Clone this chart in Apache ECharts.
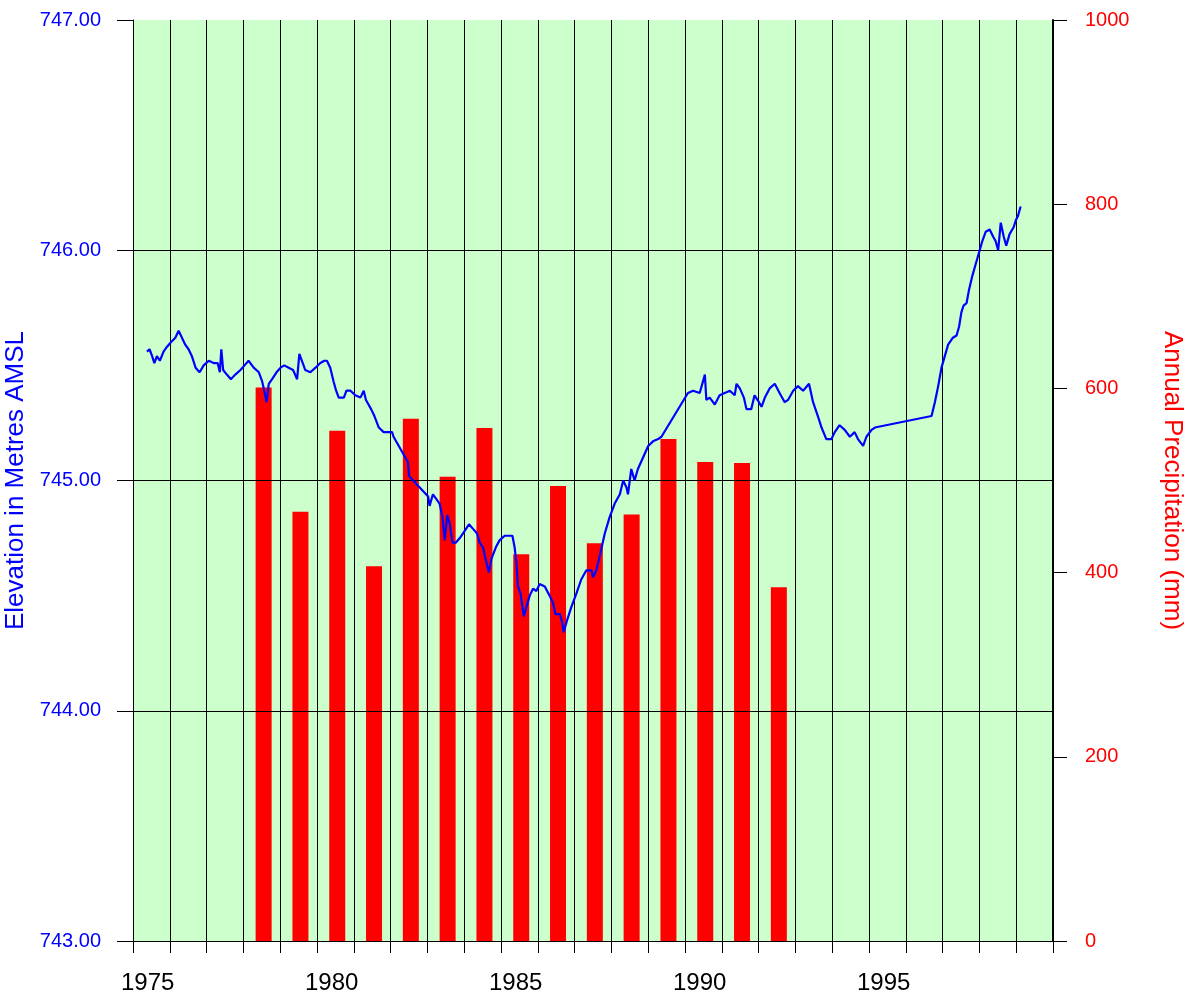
<!DOCTYPE html>
<html>
<head>
<meta charset="utf-8">
<title>Lake Elevation and Annual Precipitation</title>
<script src="https://cdn.jsdelivr.net/npm/echarts@6/dist/echarts.min.js"></script>
<style>
  html, body { margin: 0; padding: 0; background: #ffffff; }
  #chart { width: 1188px; height: 996px; }
</style>
</head>
<body>
<div id="chart"></div>
<script>
// Lake surface elevation (decimal year, metres above mean sea level)
const levelDates = [
  1974.98, 1975.05, 1975.12, 1975.18, 1975.25, 1975.33, 1975.43, 1975.52, 1975.63, 1975.75,
  1975.84, 1975.93, 1976.02, 1976.11, 1976.20, 1976.30, 1976.41, 1976.52, 1976.66, 1976.79,
  1976.90, 1976.96, 1977.00, 1977.05, 1977.15, 1977.26, 1977.38, 1977.52, 1977.63, 1977.74,
  1977.88, 1978.02, 1978.11, 1978.18, 1978.23, 1978.29, 1978.38, 1978.50, 1978.61, 1978.71,
  1978.83, 1978.95, 1979.06, 1979.12, 1979.19, 1979.28, 1979.42, 1979.56, 1979.69, 1979.80,
  1979.87, 1979.96, 1980.05, 1980.12, 1980.19, 1980.33, 1980.40, 1980.51, 1980.64, 1980.78,
  1980.87, 1980.93, 1981.00, 1981.07, 1981.16, 1981.28, 1981.41, 1981.55, 1981.64, 1981.68,
  1982.07, 1982.10, 1982.62, 1982.66, 1982.75, 1982.84, 1982.93, 1983.01, 1983.07, 1983.14,
  1983.21, 1983.28, 1983.37, 1983.48, 1983.61, 1983.73, 1983.84, 1983.95, 1984.02, 1984.11,
  1984.18, 1984.27, 1984.34, 1984.46, 1984.56, 1984.70, 1984.82, 1984.91, 1984.97, 1985.02,
  1985.06, 1985.13, 1985.22, 1985.29, 1985.38, 1985.47, 1985.56, 1985.65, 1985.79, 1985.92,
  1986.01, 1986.08, 1986.20, 1986.27, 1986.30, 1986.39, 1986.51, 1986.65, 1986.78, 1986.92,
  1987.06, 1987.10, 1987.19, 1987.28, 1987.42, 1987.55, 1987.69, 1987.83, 1987.92, 1988.01,
  1988.05, 1988.14, 1988.23, 1988.32, 1988.46, 1988.60, 1988.73, 1988.87, 1988.96, 1989.68,
  1989.82, 1990.00, 1990.14, 1990.18, 1990.27, 1990.41, 1990.54, 1990.68, 1990.82, 1990.95,
  1991.00, 1991.09, 1991.20, 1991.27, 1991.40, 1991.49, 1991.61, 1991.68, 1991.77, 1991.90,
  1992.04, 1992.17, 1992.31, 1992.40, 1992.54, 1992.67, 1992.81, 1992.97, 1993.08, 1993.21,
  1993.31, 1993.44, 1993.58, 1993.67, 1993.80, 1993.94, 1994.08, 1994.21, 1994.30, 1994.44,
  1994.53, 1994.67, 1994.76, 1996.30, 1996.39, 1996.48, 1996.57, 1996.66, 1996.75, 1996.88,
  1996.98, 1997.05, 1997.11, 1997.17, 1997.25, 1997.32, 1997.41, 1997.50, 1997.59, 1997.68,
  1997.77, 1997.88, 1997.97, 1998.04, 1998.11, 1998.18, 1998.26, 1998.33, 1998.42, 1998.53,
  1998.59, 1998.65, 1998.72
];
const levelMetres = [
  745.56, 745.57, 745.54, 745.51, 745.54, 745.52, 745.56, 745.58, 745.60, 745.62,
  745.65, 745.62, 745.59, 745.57, 745.54, 745.49, 745.47, 745.50, 745.52, 745.51,
  745.51, 745.47, 745.57, 745.48, 745.46, 745.44, 745.46, 745.48, 745.50, 745.52,
  745.49, 745.47, 745.43, 745.38, 745.34, 745.42, 745.44, 745.47, 745.49, 745.50,
  745.49, 745.48, 745.44, 745.55, 745.52, 745.48, 745.47, 745.49, 745.51, 745.52,
  745.52, 745.49, 745.43, 745.39, 745.36, 745.36, 745.39, 745.39, 745.37, 745.36,
  745.39, 745.35, 745.33, 745.31, 745.28, 745.23, 745.21, 745.21, 745.21, 745.19,
  745.08, 745.02, 744.93, 744.89, 744.94, 744.92, 744.90, 744.84, 744.74, 744.85,
  744.81, 744.73, 744.73, 744.75, 744.78, 744.81, 744.79, 744.77, 744.73, 744.71,
  744.66, 744.60, 744.66, 744.71, 744.74, 744.76, 744.76, 744.76, 744.71, 744.64,
  744.54, 744.51, 744.41, 744.45, 744.50, 744.53, 744.52, 744.55, 744.54, 744.50,
  744.47, 744.42, 744.42, 744.38, 744.34, 744.39, 744.45, 744.51, 744.57, 744.61,
  744.61, 744.58, 744.61, 744.67, 744.77, 744.84, 744.90, 744.94, 745.00, 744.97,
  744.94, 745.05, 745.00, 745.05, 745.10, 745.15, 745.17, 745.18, 745.19, 745.38,
  745.39, 745.38, 745.46, 745.35, 745.36, 745.33, 745.37, 745.38, 745.39, 745.37,
  745.42, 745.40, 745.36, 745.31, 745.31, 745.37, 745.34, 745.32, 745.36, 745.40,
  745.42, 745.38, 745.34, 745.35, 745.39, 745.41, 745.39, 745.42, 745.34, 745.28,
  745.23, 745.18, 745.18, 745.21, 745.24, 745.22, 745.19, 745.21, 745.18, 745.15,
  745.19, 745.22, 745.23, 745.28, 745.34, 745.41, 745.49, 745.54, 745.59, 745.62,
  745.63, 745.67, 745.73, 745.76, 745.77, 745.83, 745.89, 745.94, 745.99, 746.04,
  746.08, 746.09, 746.06, 746.04, 746.00, 746.12, 746.06, 746.02, 746.07, 746.10,
  746.13, 746.15, 746.19
];

// Annual precipitation totals (mm)
const precipYears = [1978, 1979, 1980, 1981, 1982, 1983, 1984, 1985, 1986, 1987, 1988, 1989, 1990, 1991, 1992];
const precipMm    = [601, 466, 554, 407, 567, 504, 557, 420, 494, 432, 463, 545, 520, 519, 384];

// Year labels along the bottom axis
const yearLabels = [1975, 1980, 1985, 1990, 1995];

const FONT = '"Liberation Sans", Arial, Helvetica, sans-serif';
const BAR_SHIFT = 0.15;   // bars sit just after the start of their year

const levelData = levelDates.map((d, i) => [d, levelMetres[i]]);
const precipData = precipYears.map((y, i) => [y + BAR_SHIFT, precipMm[i]]);

const chart = echarts.init(document.getElementById('chart'), null, { renderer: 'canvas' });

chart.setOption({
  animation: false,
  backgroundColor: '#ffffff',
  grid: {
    left: 133, right: 135, top: 20, bottom: 55,
    outerBoundsMode: 'none',
    containLabel: false,
    show: true,
    backgroundColor: '#ccffcc',
    borderWidth: 0
  },
  xAxis: {
    type: 'value',
    min: 1974.6,
    max: 1999.6,
    interval: 1,
    z: 2,
    axisLine: { show: true, lineStyle: { color: '#000000', width: 1 } },
    axisTick: { show: true, inside: false, length: 12, lineStyle: { color: '#000000', width: 1 } },
    splitLine: { show: true, lineStyle: { color: '#000000', width: 1 } },
    axisLabel: {
      customValues: yearLabels,
      formatter: v => String(Math.round(v)),
      color: '#000000',
      fontFamily: FONT,
      fontSize: 24,
      margin: 30
    }
  },
  yAxis: [
    {
      type: 'value',
      position: 'left',
      min: 743,
      max: 747,
      interval: 1,
      z: 2,
      name: 'Elevation in Metres AMSL',
      nameLocation: 'middle',
      nameGap: 95,
      nameRotate: 90,
      nameTextStyle: { color: '#0000ff', fontFamily: FONT, fontSize: 26 },
      axisLine: { show: true, lineStyle: { color: '#000000', width: 1 } },
      axisTick: { show: true, inside: false, length: 16, lineStyle: { color: '#000000', width: 1 } },
      splitLine: { show: true, showMaxLine: false, lineStyle: { color: '#000000', width: 1 } },
      axisLabel: {
        formatter: v => v.toFixed(2),
        color: '#0000ff',
        fontFamily: FONT,
        fontSize: 20,
        margin: 32
      }
    },
    {
      type: 'value',
      position: 'right',
      min: 0,
      max: 1000,
      interval: 200,
      z: 2,
      name: 'Annual Precipitation (mm)',
      nameLocation: 'middle',
      nameGap: 106,
      nameRotate: -90,
      nameTextStyle: { color: '#ff0000', fontFamily: FONT, fontSize: 26 },
      axisLine: { show: true, lineStyle: { color: '#000000', width: 2 } },
      axisTick: { show: true, inside: false, length: 14, lineStyle: { color: '#000000', width: 1 } },
      splitLine: { show: false },
      axisLabel: {
        formatter: v => String(v),
        color: '#ff0000',
        fontFamily: FONT,
        fontSize: 20,
        margin: 32
      }
    }
  ],
  series: [
    {
      name: 'Annual Precipitation',
      type: 'bar',
      yAxisIndex: 1,
      z: 1,
      barWidth: 16,
      itemStyle: { color: '#ff0000' },
      data: precipData
    },
    {
      name: 'Lake Elevation',
      type: 'line',
      yAxisIndex: 0,
      z: 3,
      showSymbol: false,
      symbol: 'none',
      lineStyle: { color: '#0000ff', width: 2.2 },
      data: levelData
    }
  ]
});
</script>
</body>
</html>
